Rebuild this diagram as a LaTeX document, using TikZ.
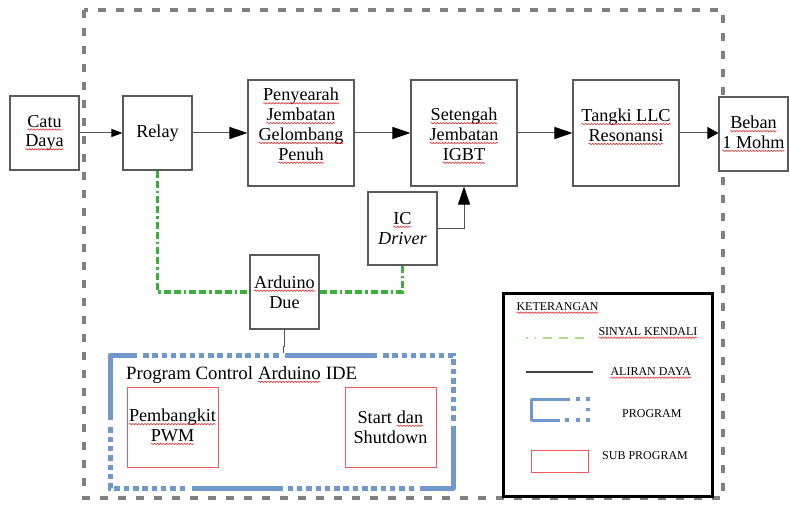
\documentclass[tikz,border=0pt]{standalone}
\usepackage{fontspec}
\setmainfont{Liberation Serif}
\usetikzlibrary{arrows.meta,decorations.pathmorphing}
\definecolor{boxgray}{RGB}{90,90,90}
\definecolor{outergray}{RGB}{128,128,128}
\definecolor{flowgray}{RGB}{85,85,85}
\definecolor{ctrlgreen}{RGB}{60,176,60}
\definecolor{legendgreen}{RGB}{170,220,140}
\definecolor{progblue}{RGB}{112,152,204}
\definecolor{subred}{RGB}{240,90,90}
\definecolor{sqred}{RGB}{225,50,50}
\newcommand\mainsz{\fontsize{18.2}{19.8}\selectfont}
\newcommand\legsz{\fontsize{12}{14}\selectfont}
\newcommand\sq[1]{\tikz[baseline=(w.base)]{\node[shape=rectangle,anchor=center,inner sep=0pt,outer sep=0pt,draw=none,fill=none,minimum width=0pt,minimum height=0pt,align=left](w){#1};\draw[sqred,line width=0.6pt,decorate,decoration={snake,amplitude=0.7pt,segment length=3pt}]([yshift=-2.4pt]w.base west)--([yshift=-2.4pt]w.base east);}}
\begin{document}
\begin{tikzpicture}[x=1pt,y=-1pt,
  box/.style={draw=boxgray,line width=1.1pt,fill=white,inner sep=0pt,align=center,font=\mainsz},
  subbox/.style={draw=subred,line width=1pt,fill=white,inner sep=0pt,align=center,font=\mainsz},
  txt/.style={inner sep=0pt,align=center,font=\mainsz},
  legtxt/.style={inner sep=0pt,anchor=west,font=\legsz},
  flow/.style={draw=flowgray,line width=1pt},
  bigtip/.style={-{Triangle[length=18pt,width=12pt,color=black]}},
  smalltip/.style={-{Triangle[length=11pt,width=8pt,color=black]}},
  ctrl/.style={draw=ctrlgreen,line width=3.2pt,dash pattern=on 7pt off 3pt on 7pt off 3pt on 2.5pt off 3pt},
  prog/.style={draw=progblue,line width=5pt,line join=round},
  progdot/.style={draw=progblue,line width=5pt,dash pattern=on 5.5pt off 3.8pt}]
\fill[white] (0,0) rectangle (789,505);
\useasboundingbox (0,0) rectangle (789,505);
% outer dashed frame
\draw[outergray,line width=4pt,dash pattern=on 8pt off 10pt] (84,10) rectangle (723,498);
% boxes
\node[box,minimum width=69pt,minimum height=74pt] (catu) at (44.5,133) {\sq{Catu}\\\sq{Daya}};
\node[box,minimum width=69pt,minimum height=74pt] (relay) at (157.5,133) {Relay};
\node[box,minimum width=106pt,minimum height=106pt] (peny) at (301,133) {};
\node[txt] (penyt) at (301,126) {\sq{Penyearah}\\\sq{Jembatan}\\\sq{Gelombang}\\\sq{Penuh}};
\node[box,minimum width=106pt,minimum height=106pt] (seten) at (464,133) {};
\node[txt] (setent) at (464,136) {\sq{Setengah}\\\sq{Jembatan}\\\sq{IGBT}};
\node[box,minimum width=106pt,minimum height=106pt] (tangki) at (626,133) {};
\node[txt] (tangkit) at (626,127) {\sq{Tangki LLC}\\\sq{Resonansi}};
\node[box,minimum width=69pt,minimum height=74pt] (beban) at (753.5,134) {\sq{Beban}\\\sq{1 Mohm}};
\node[box,minimum width=69pt,minimum height=73pt] (icd) at (402.5,228.5) {\sq{IC}\\\textit{Driver}};
\node[box,minimum width=69pt,minimum height=74pt] (ard) at (284.5,292) {\sq{Arduino}\\Due};
% power flow
\draw[flow,smalltip] (catu) -- (relay);
\draw[flow,bigtip] (relay) -- (peny);
\draw[flow,bigtip] (peny) -- (seten);
\draw[flow,bigtip] (seten) -- (tangki);
\draw[flow,-{Triangle[length=11pt,width=12pt,color=black]}] (tangki.east) -- (tangki.east -| beban.west);
\draw[flow,bigtip] (icd.east) -| (seten.south);
% control signals
\coordinate (gl) at (157.5,292);
\coordinate (gr) at (402.5,292);
\draw[ctrl] (relay.south) -- (gl) -- (ard.west);
\draw[ctrl] (ard.east) -- (gr) -- (icd.south);
% program box
\draw[prog] (110,420) -- (110,355) -- (137,355);
\draw[progdot] (143,355) -- (281,355);
\draw[prog] (285,355) -- (377,355);
\draw[progdot] (383,355) -- (453,355) -- (453,421);
\draw[prog] (453,426) -- (453,488) -- (420,488);
\draw[progdot] (414,488) -- (288,488);
\draw[prog] (283,488) -- (192,488);
\draw[progdot] (185,488) -- (110,488) -- (110,426);
\coordinate (progtop) at (283.5,353);
\draw[flowgray,line width=0.8pt] (ard.south) -- (284.5,346) -- (283.5,346) -- (progtop);
\node[txt,anchor=west,font=\fontsize{18.8}{20}\selectfont] (progt) at (126,375) {Program Control \sq{Arduino} IDE};
\node[subbox,minimum width=91pt,minimum height=80pt] (pwm) at (172.5,427) {\sq{Pembangkit}\\\sq{PWM}};
\node[subbox,minimum width=91pt,minimum height=80pt] (ssd) at (390.5,427) {Start \sq{dan}\\Shutdown};
% legend
\draw[black,line width=3pt] (503,293) rectangle (712,496);
\node[legtxt] (k) at (516,308) {\sq{KETERANGAN}};
\coordinate (lg1) at (526,338); \coordinate (lg2) at (593,338);
\draw[legendgreen,line width=1.5pt,dash pattern=on 1.5pt off 7pt on 1.5pt off 7pt on 9pt off 7pt on 9pt off 7pt on 9pt off 20pt] (lg1) -- (lg2);
\node[legtxt] (l1) at (598,333) {\sq{SINYAL KENDALI}};
\coordinate (lb1) at (526,372); \coordinate (lb2) at (593,372);
\draw[black!75,line width=1.2pt] (lb1) -- (lb2);
\node[legtxt] (l2) at (610,373) {\sq{ALIRAN DAYA}};
\draw[progblue,line width=3pt,line join=round] (570,399) -- (531,399) -- (531,420) -- (560,420);
\foreach \p in {(578,399),(588,399),(588,409.5),(567,420),(578,420),(588,420)}
  \fill[progblue] \p ++(-1.7,-1.7) rectangle ++(3.4,3.4);
\node[legtxt] (l3) at (622,414) {PROGRAM};
\draw[subred,line width=1pt] (531,450) rectangle (588,472);
\node[legtxt] (l4) at (602,456) {SUB PROGRAM};
\end{tikzpicture}
\end{document}
